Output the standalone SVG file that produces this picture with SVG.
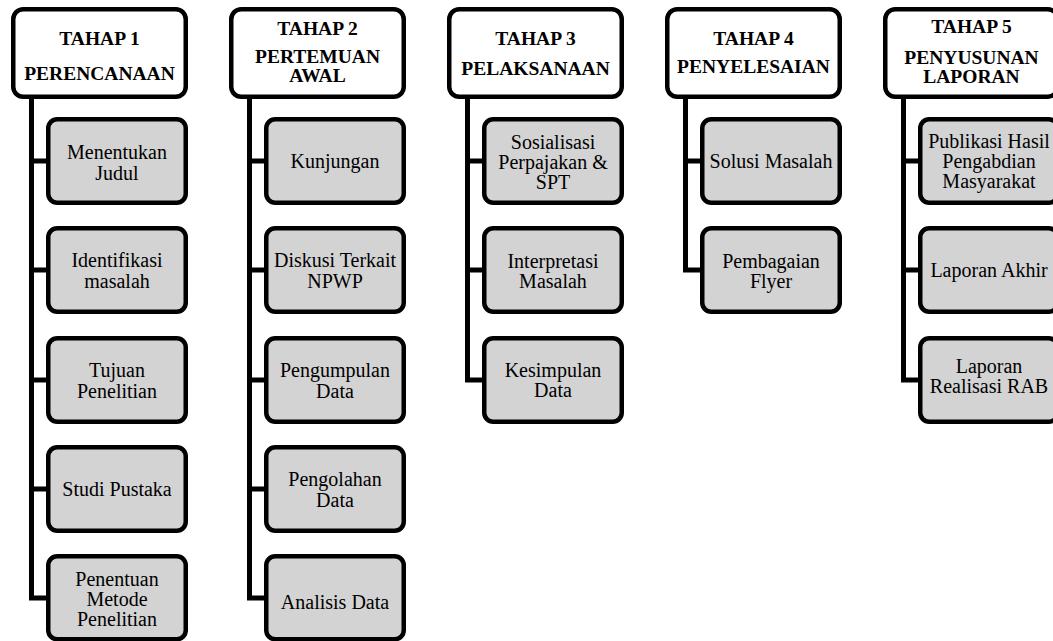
<svg xmlns="http://www.w3.org/2000/svg" width="1053" height="641" viewBox="0 0 1053 641">
<style>
.hdr{fill:#ffffff;stroke:#000;stroke-width:4.5}
.box{fill:#d3d3d3;stroke:#000;stroke-width:4.5}
.conn{fill:none;stroke:#000;stroke-width:5;stroke-linejoin:miter}
text{font-family:'Liberation Serif','DejaVu Serif',serif;text-anchor:middle;fill:#000}
.ht{font-weight:bold;font-size:19.5px}
.bt{font-size:20px}
</style>
<rect width="1053" height="641" fill="#fff"/>
<g id="connectors">
  <path class="conn" d="M31.5 98 V598 H50 M31.5 161 H50 M31.5 270 H50 M31.5 380 H50 M31.5 489 H50"/>
  <path class="conn" d="M249.5 98 V598 H268 M249.5 161 H268 M249.5 270 H268 M249.5 380 H268 M249.5 489 H268"/>
  <path class="conn" d="M467.5 98 V380 H486 M467.5 161 H486 M467.5 270 H486"/>
  <path class="conn" d="M685.5 98 V270 H704 M685.5 161 H704"/>
  <path class="conn" d="M903.5 98 V380 H922 M903.5 161 H922 M903.5 270 H922"/>
</g>
<g id="tahap1">
  <rect class="hdr" x="13.25" y="9.25" width="172.5" height="87.5" rx="10"/>
  <text class="ht" x="99.5" y="45">TAHAP 1</text>
  <text class="ht" x="99.5" y="80">PERENCANAAN</text>
</g>
<g id="t1-menentukan"><rect class="box" x="48.25" y="119.25" width="137.5" height="83.5" rx="9"/><text class="bt" x="117" y="159">Menentukan</text><text class="bt" x="117" y="180">Judul</text></g>
<g id="t1-identifikasi"><rect class="box" x="48.25" y="228.25" width="137.5" height="83.5" rx="9"/><text class="bt" x="117" y="267">Identifikasi</text><text class="bt" x="117" y="288">masalah</text></g>
<g id="t1-tujuan"><rect class="box" x="48.25" y="338.25" width="137.5" height="83.5" rx="9"/><text class="bt" x="117" y="377">Tujuan</text><text class="bt" x="117" y="398">Penelitian</text></g>
<g id="t1-studi"><rect class="box" x="48.25" y="447.25" width="137.5" height="83.5" rx="9"/><text class="bt" x="117" y="496">Studi Pustaka</text></g>
<g id="t1-penentuan"><rect class="box" x="48.25" y="556.25" width="137.5" height="83" rx="9"/><text class="bt" x="117" y="586">Penentuan</text><text class="bt" x="117" y="606">Metode</text><text class="bt" x="117" y="626">Penelitian</text></g>

<g id="tahap2">
  <rect class="hdr" x="231.25" y="9.25" width="172.5" height="87.5" rx="10"/>
  <text class="ht" x="317.5" y="35">TAHAP 2</text>
  <text class="ht" x="317.5" y="63">PERTEMUAN</text>
  <text class="ht" x="317.5" y="82">AWAL</text>
</g>
<g id="t2-kunjungan"><rect class="box" x="266.25" y="119.25" width="137.5" height="83.5" rx="9"/><text class="bt" x="335" y="168">Kunjungan</text></g>
<g id="t2-diskusi"><rect class="box" x="266.25" y="228.25" width="137.5" height="83.5" rx="9"/><text class="bt" x="335" y="267">Diskusi Terkait</text><text class="bt" x="335" y="288">NPWP</text></g>
<g id="t2-pengumpulan"><rect class="box" x="266.25" y="338.25" width="137.5" height="83.5" rx="9"/><text class="bt" x="335" y="377">Pengumpulan</text><text class="bt" x="335" y="398">Data</text></g>
<g id="t2-pengolahan"><rect class="box" x="266.25" y="447.25" width="137.5" height="83.5" rx="9"/><text class="bt" x="335" y="486">Pengolahan</text><text class="bt" x="335" y="507">Data</text></g>
<g id="t2-analisis"><rect class="box" x="266.25" y="556.25" width="137.5" height="83" rx="9"/><text class="bt" x="335" y="609">Analisis Data</text></g>

<g id="tahap3">
  <rect class="hdr" x="449.25" y="9.25" width="172.5" height="87.5" rx="10"/>
  <text class="ht" x="535.5" y="45">TAHAP 3</text>
  <text class="ht" x="535.5" y="75">PELAKSANAAN</text>
</g>
<g id="t3-sosialisasi"><rect class="box" x="484.25" y="119.25" width="137.5" height="83.5" rx="9"/><text class="bt" x="553" y="149">Sosialisasi</text><text class="bt" x="553" y="169">Perpajakan &amp;</text><text class="bt" x="553" y="189">SPT</text></g>
<g id="t3-interpretasi"><rect class="box" x="484.25" y="228.25" width="137.5" height="83.5" rx="9"/><text class="bt" x="553" y="268">Interpretasi</text><text class="bt" x="553" y="288">Masalah</text></g>
<g id="t3-kesimpulan"><rect class="box" x="484.25" y="338.25" width="137.5" height="83.5" rx="9"/><text class="bt" x="553" y="377">Kesimpulan</text><text class="bt" x="553" y="397">Data</text></g>

<g id="tahap4">
  <rect class="hdr" x="667.25" y="9.25" width="172.5" height="87.5" rx="10"/>
  <text class="ht" x="753.5" y="45">TAHAP 4</text>
  <text class="ht" x="753.5" y="73">PENYELESAIAN</text>
</g>
<g id="t4-solusi"><rect class="box" x="702.25" y="119.25" width="137.5" height="83.5" rx="9"/><text class="bt" x="771" y="168">Solusi Masalah</text></g>
<g id="t4-pembagaian"><rect class="box" x="702.25" y="228.25" width="137.5" height="83.5" rx="9"/><text class="bt" x="771" y="268">Pembagaian</text><text class="bt" x="771" y="288">Flyer</text></g>

<g id="tahap5">
  <rect class="hdr" x="885.25" y="9.25" width="172.5" height="87.5" rx="10"/>
  <text class="ht" x="971.5" y="33">TAHAP 5</text>
  <text class="ht" x="971.5" y="64">PENYUSUNAN</text>
  <text class="ht" x="971.5" y="83">LAPORAN</text>
</g>
<g id="t5-publikasi"><rect class="box" x="920.25" y="119.25" width="137.5" height="83.5" rx="9"/><text class="bt" x="989" y="148">Publikasi Hasil</text><text class="bt" x="989" y="168">Pengabdian</text><text class="bt" x="989" y="188">Masyarakat</text></g>
<g id="t5-akhir"><rect class="box" x="920.25" y="228.25" width="137.5" height="83.5" rx="9"/><text class="bt" x="989" y="277">Laporan Akhir</text></g>
<g id="t5-rab"><rect class="box" x="920.25" y="338.25" width="137.5" height="83.5" rx="9"/><text class="bt" x="989" y="373">Laporan</text><text class="bt" x="989" y="393">Realisasi RAB</text></g>
</svg>
